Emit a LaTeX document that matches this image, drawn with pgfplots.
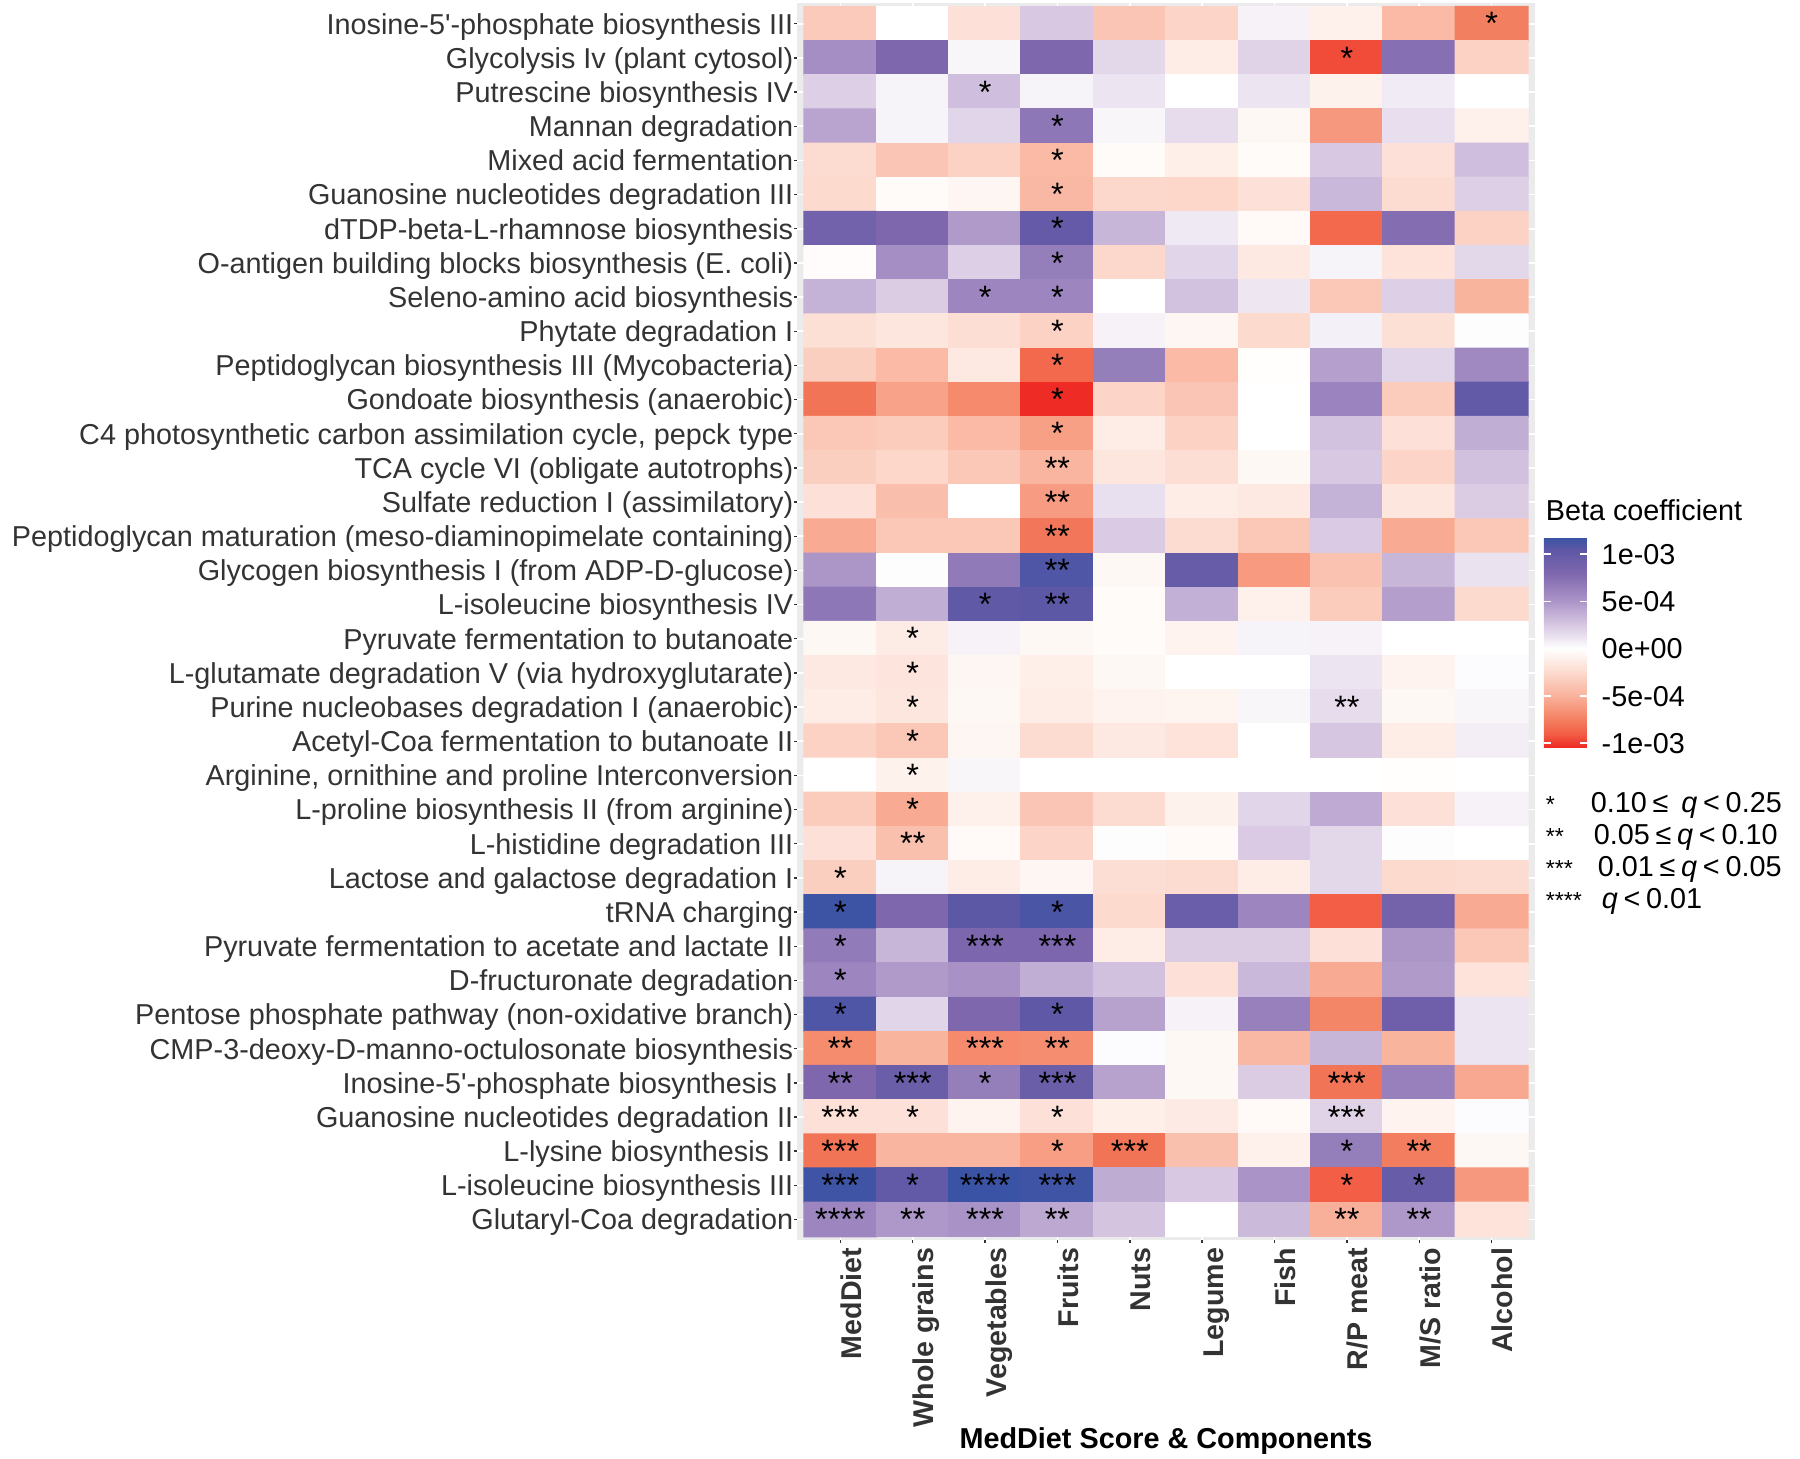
\documentclass[border=0pt]{standalone}
\usepackage{fontspec}
\setmainfont{Liberation Sans}
\usepackage{pgfplots}
\pgfplotsset{compat=1.18}
\definecolor{txt}{HTML}{333333}
\definecolor{panel}{HTML}{EBEBEB}
\pgfplotsset{colormap={hm}{
 rgb255(0cm)=(238,42,36) rgb255(1.45cm)=(242,94,70) rgb255(2.45cm)=(242,116,87)
 rgb255(3.45cm)=(245,138,108) rgb255(5.45cm)=(249,178,156) rgb255(7.95cm)=(252,218,206)
 rgb255(10.45cm)=(255,255,255) rgb255(12.95cm)=(216,200,226) rgb255(15.45cm)=(172,150,200)
 rgb255(18.45cm)=(127,103,174) rgb255(20.85cm)=(95,88,166) rgb255(22.25cm)=(58,83,164)}}
\newcommand\lab{\fontsize{7.2}{8.6}\selectfont}
\begin{document}
\begin{tikzpicture}
\useasboundingbox (0,0) rectangle (450pt,364.5pt);
\begin{axis}[
 at={(199.25pt,54.5pt)}, anchor=south west,
 scale only axis, width=184.5pt, height=309.175pt,
 xmin=-0.6, xmax=9.6, ymin=-0.6, ymax=35.6, y dir=reverse,
 axis background/.style={fill=panel},
 axis line style={draw=none},
 grid=major, major grid style={white, line width=0.4pt},
 tick align=outside, tick pos=left, major tick length=0.65pt,
 tick style={txt, line width=0.35pt},
 xtick={0,...,9},
 xticklabels={MedDiet, Whole grains, Vegetables, Fruits, Nuts, Legume, Fish, R/P meat, M/S ratio, Alcohol},
 ytick={0,...,35},
 yticklabels={
 Inosine-5\textquotesingle-phosphate biosynthesis III,
 Glycolysis Iv (plant cytosol),
 Putrescine biosynthesis IV,
 Mannan degradation,
 Mixed acid fermentation,
 Guanosine nucleotides degradation III,
 dTDP-beta-L-rhamnose biosynthesis,
 O-antigen building blocks biosynthesis (E. coli),
 Seleno-amino acid biosynthesis,
 Phytate degradation I,
 Peptidoglycan biosynthesis III (Mycobacteria),
 Gondoate biosynthesis (anaerobic),
 {C4 photosynthetic carbon assimilation cycle, pepck type},
 TCA cycle VI (obligate autotrophs),
 Sulfate reduction I (assimilatory),
 Peptidoglycan maturation (meso-diaminopimelate containing),
 Glycogen biosynthesis I (from ADP-D-glucose),
 L-isoleucine biosynthesis IV,
 Pyruvate fermentation to butanoate,
 L-glutamate degradation V (via hydroxyglutarate),
 Purine nucleobases degradation I (anaerobic),
 Acetyl-Coa fermentation to butanoate II,
 {Arginine, ornithine and proline Interconversion},
 L-proline biosynthesis II (from arginine),
 L-histidine degradation III,
 Lactose and galactose degradation I,
 tRNA charging,
 Pyruvate fermentation to acetate and lactate II,
 D-fructuronate degradation,
 Pentose phosphate pathway (non-oxidative branch),
 CMP-3-deoxy-D-manno-octulosonate biosynthesis,
 Inosine-5\textquotesingle-phosphate biosynthesis I,
 Guanosine nucleotides degradation II,
 L-lysine biosynthesis II,
 L-isoleucine biosynthesis III,
 Glutaryl-Coa degradation},
 xticklabel style={font=\fontsize{7.15}{8}\selectfont\bfseries, text=txt, inner sep=0pt, xshift=5.25pt, yshift=-1.1pt, rotate=90, anchor=base east},
 yticklabel style={font=\lab, text=txt, inner sep=0pt, anchor=base east, xshift=-0.1pt, yshift=-2.58pt},
 xlabel={MedDiet Score \& Components},
 xlabel style={font=\fontsize{7.2}{8}\selectfont\bfseries, at={(axis description cs:0.5,-0.1682)}, anchor=base, inner sep=0pt},
 colormap name=hm, point meta min=-10.45, point meta max=11.8,
 colorbar,
 colorbar style={
  at={(parent axis.north east)}, anchor=north west, xshift=-6.3pt, yshift=-133.5pt,
  scale only axis, width=10.75pt, height=52.5pt,
  axis line style={draw=none},
  ytick={-10,-5,0,5,10}, yticklabels={-1e-03,-5e-04,0e+00,5e-04,1e-03},
  ytick pos=both, yticklabel pos=right,
  tick align=inside, major tick length=1.75pt, tick style={white, line width=0.4pt},
  yticklabel style={font=\lab, text=black, inner sep=0pt, anchor=base west, xshift=3.5pt, yshift=-2.58pt},
 },
]
\addplot[matrix plot*, mesh/cols=10, point meta=explicit] coordinates {
(0,0)[-3.5] (1,0)[0] (2,0)[-2] (3,0)[2.5] (4,0)[-3.8] (5,0)[-2.8] (6,0)[0.6] (7,0)[-1] (8,0)[-4.5] (9,0)[-7.5]
(0,1)[5.5] (1,1)[8] (2,1)[0.4] (3,1)[8] (4,1)[1.8] (5,1)[-1.2] (6,1)[2] (7,1)[-9.5] (8,1)[7.5] (9,1)[-3]
(0,2)[2.2] (1,2)[0.5] (2,2)[3] (3,2)[0.5] (4,2)[1.2] (5,2)[0] (6,2)[1.2] (7,2)[-0.9] (8,2)[0.9] (9,2)[0]
(0,3)[4.3] (1,3)[0.5] (2,3)[1.9] (3,3)[7] (4,3)[0.4] (5,3)[1.6] (6,3)[-0.5] (7,3)[-6.3] (8,3)[1.5] (9,3)[-1]
(0,4)[-2.4] (1,4)[-3.8] (2,4)[-3] (3,4)[-4.5] (4,4)[-0.3] (5,4)[-1.1] (6,4)[-0.3] (7,4)[2.5] (8,4)[-2] (9,4)[3]
(0,5)[-2.5] (1,5)[-0.3] (2,5)[-0.6] (3,5)[-4.6] (4,5)[-2.6] (5,5)[-2.7] (6,5)[-2] (7,5)[3.3] (8,5)[-2.4] (9,5)[2.2]
(0,6)[9] (1,6)[8] (2,6)[4.8] (3,6)[10] (4,6)[3.4] (5,6)[1] (6,6)[-0.4] (7,6)[-8.5] (8,6)[7.6] (9,6)[-3]
(0,7)[-0.2] (1,7)[5.5] (2,7)[2.2] (3,7)[6.5] (4,7)[-2.6] (5,7)[1.9] (6,7)[-1.5] (7,7)[0.5] (8,7)[-1.9] (9,7)[1.8]
(0,8)[3.6] (1,8)[2.3] (2,8)[6] (3,8)[6] (4,8)[0] (5,8)[2.8] (6,8)[1.1] (7,8)[-3.7] (8,8)[2.2] (9,8)[-4.9]
(0,9)[-2.1] (1,9)[-1.7] (2,9)[-2.2] (3,9)[-3] (4,9)[0.6] (5,9)[-0.6] (6,9)[-2.5] (7,9)[0.7] (8,9)[-2.1] (9,9)[0.1]
(0,10)[-3.2] (1,10)[-4.5] (2,10)[-1.5] (3,10)[-8.5] (4,10)[6.5] (5,10)[-4.5] (6,10)[-0.1] (7,10)[4.5] (8,10)[1.9] (9,10)[5.8]
(0,11)[-8] (1,11)[-5.8] (2,11)[-7] (3,11)[-10.4] (4,11)[-2.8] (5,11)[-3.8] (6,11)[0] (7,11)[6.2] (8,11)[-3.4] (9,11)[10.2]
(0,12)[-3.6] (1,12)[-3.4] (2,12)[-4.5] (3,12)[-5.9] (4,12)[-1.2] (5,12)[-3] (6,12)[0] (7,12)[2.8] (8,12)[-2] (9,12)[3.8]
(0,13)[-3.2] (1,13)[-2.7] (2,13)[-3.7] (3,13)[-4.8] (4,13)[-1.7] (5,13)[-2.2] (6,13)[-0.5] (7,13)[2.5] (8,13)[-2.8] (9,13)[2.9]
(0,14)[-2] (1,14)[-4.2] (2,14)[0] (3,14)[-6.1] (4,14)[1.4] (5,14)[-1.2] (6,14)[-1.5] (7,14)[3.6] (8,14)[-1.7] (9,14)[2.3]
(0,15)[-5.4] (1,15)[-3.7] (2,15)[-3.6] (3,15)[-7.9] (4,15)[2.4] (5,15)[-2.4] (6,15)[-3.7] (7,15)[2.4] (8,15)[-5.4] (9,15)[-3.6]
(0,16)[5] (1,16)[0.1] (2,16)[6.8] (3,16)[11] (4,16)[-0.5] (5,16)[9.8] (6,16)[-6.2] (7,16)[-4] (8,16)[3.4] (9,16)[1.3]
(0,17)[7] (1,17)[3.8] (2,17)[10.3] (3,17)[10.5] (4,17)[-0.3] (5,17)[3.7] (6,17)[-1] (7,17)[-3.4] (8,17)[4.6] (9,17)[-2.5]
(0,18)[-0.5] (1,18)[-1.3] (2,18)[0.6] (3,18)[-0.5] (4,18)[-0.3] (5,18)[-0.8] (6,18)[0.5] (7,18)[0.6] (8,18)[0] (9,18)[0]
(0,19)[-1.5] (1,19)[-1.8] (2,19)[-0.6] (3,19)[-1.1] (4,19)[-0.5] (5,19)[0] (6,19)[0] (7,19)[1.2] (8,19)[-0.8] (9,19)[0.2]
(0,20)[-1.2] (1,20)[-1.7] (2,20)[-0.5] (3,20)[-1.2] (4,20)[-0.8] (5,20)[-0.7] (6,20)[0.4] (7,20)[1.6] (8,20)[-0.5] (9,20)[0.4]
(0,21)[-3] (1,21)[-3.6] (2,21)[-0.6] (3,21)[-2.4] (4,21)[-1.5] (5,21)[-1.9] (6,21)[0] (7,21)[2.6] (8,21)[-1.2] (9,21)[0.8]
(0,22)[0] (1,22)[-0.9] (2,22)[0.4] (3,22)[0] (4,22)[0] (5,22)[0] (6,22)[0] (7,22)[0] (8,22)[-0.1] (9,22)[0]
(0,23)[-3.4] (1,23)[-5.4] (2,23)[-1] (3,23)[-3.8] (4,23)[-2.4] (5,23)[-0.9] (6,23)[1.9] (7,23)[4] (8,23)[-2] (9,23)[0.6]
(0,24)[-2] (1,24)[-4.1] (2,24)[-0.4] (3,24)[-2.8] (4,24)[0.1] (5,24)[-0.4] (6,24)[2.4] (7,24)[1.8] (8,24)[0.1] (9,24)[0]
(0,25)[-3.2] (1,25)[0.5] (2,25)[-1.2] (3,25)[-0.6] (4,25)[-2.2] (5,25)[-2.4] (6,25)[-1.2] (7,25)[1.8] (8,25)[-2.5] (9,25)[-2.4]
(0,26)[11.7] (1,26)[8] (2,26)[10.5] (3,26)[11.2] (4,26)[-2.5] (5,26)[9.6] (6,26)[6] (7,26)[-9] (8,26)[8.8] (9,26)[-5.4]
(0,27)[6.7] (1,27)[3.4] (2,27)[8.2] (3,27)[8.2] (4,27)[-1.2] (5,27)[2.3] (6,27)[2.3] (7,27)[-2] (8,27)[5] (9,27)[-3.7]
(0,28)[6] (1,28)[4.8] (2,28)[5.3] (3,28)[3.8] (4,28)[2.9] (5,28)[-2] (6,28)[3.3] (7,28)[-5.4] (8,28)[4.8] (9,28)[-1.9]
(0,29)[11] (1,29)[1.9] (2,29)[8] (3,29)[10.4] (4,29)[4.4] (5,29)[0.6] (6,29)[6.4] (7,29)[-7.2] (8,29)[9.2] (9,29)[1.2]
(0,30)[-6.9] (1,30)[-4.9] (2,30)[-7] (3,30)[-6.8] (4,30)[0.2] (5,30)[-0.5] (6,30)[-4.6] (7,30)[3.4] (8,30)[-4.9] (9,30)[1.2]
(0,31)[8] (1,31)[9.5] (2,31)[6.5] (3,31)[9.5] (4,31)[4.4] (5,31)[-0.5] (6,31)[2.3] (7,31)[-8] (8,31)[6.4] (9,31)[-5.5]
(0,32)[-2] (1,32)[-2] (2,32)[-0.8] (3,32)[-2] (4,32)[-1.1] (5,32)[-1.4] (6,32)[-0.4] (7,32)[2] (8,32)[-0.8] (9,32)[0.2]
(0,33)[-8] (1,33)[-4.8] (2,33)[-4.8] (3,33)[-6] (4,33)[-8] (5,33)[-4.1] (6,33)[-1] (7,33)[6.5] (8,33)[-7.6] (9,33)[-0.5]
(0,34)[11.6] (1,34)[10.2] (2,34)[11.8] (3,34)[11.6] (4,34)[3.9] (5,34)[2.5] (6,34)[5.1] (7,34)[-9] (8,34)[9.8] (9,34)[-6.3]
(0,35)[6] (1,35)[4.9] (2,35)[5.2] (3,35)[4.1] (4,35)[2.7] (5,35)[0] (6,35)[3.2] (7,35)[-5.1] (8,35)[4.9] (9,35)[-1.9]
};
\addplot[draw=none, mark=none, point meta=explicit symbolic, nodes near coords,
 nodes near coords align={anchor=base},
 every node near coord/.append style={font=\fontsize{8.1}{9}\selectfont, text=black, inner sep=0pt, anchor=base, yshift=-2.8pt}]
coordinates {
(9,0)[*] (7,1)[*] (2,2)[*] (3,3)[*] (3,4)[*] (3,5)[*] (3,6)[*] (3,7)[*] (2,8)[*] (3,8)[*]
(3,9)[*] (3,10)[*] (3,11)[*] (3,12)[*] (3,13)[**] (3,14)[**] (3,15)[**] (3,16)[**] (2,17)[*] (3,17)[**]
(1,18)[*] (1,19)[*] (1,20)[*] (7,20)[**] (1,21)[*] (1,22)[*] (1,23)[*] (1,24)[**] (0,25)[*]
(0,26)[*] (3,26)[*] (0,27)[*] (2,27)[***] (3,27)[***] (0,28)[*] (0,29)[*] (3,29)[*]
(0,30)[**] (2,30)[***] (3,30)[**] (0,31)[**] (1,31)[***] (2,31)[*] (3,31)[***] (7,31)[***]
(0,32)[***] (1,32)[*] (3,32)[*] (7,32)[***] (0,33)[***] (3,33)[*] (4,33)[***] (7,33)[*] (8,33)[**]
(0,34)[***] (1,34)[*] (2,34)[****] (3,34)[***] (7,34)[*] (8,34)[*]
(0,35)[****] (1,35)[**] (2,35)[***] (3,35)[**] (7,35)[**] (8,35)[**]
};
\end{axis}
\node[anchor=base west, inner sep=0pt, font=\lab] at (386.25pt,234.25pt) {Beta coefficient};
\begin{scope}[every node/.style={anchor=base west, inner sep=0pt}]
\node[font=\fontsize{5.8}{7}\selectfont] at (386.25pt,161.25pt) {*};
\node[font=\fontsize{5.8}{7}\selectfont] at (386.25pt,153.25pt) {**};
\node[font=\fontsize{5.8}{7}\selectfont] at (386.25pt,145.25pt) {***};
\node[font=\fontsize{5.8}{7}\selectfont] at (386.25pt,137.25pt) {****};
\node[font=\lab] at (397.5pt,161.25pt) {0.10\hspace{0.2em}≤\hspace{0.45em}\textit{q}\hspace{0.2em}<\hspace{0.2em}0.25};
\node[font=\lab] at (398.25pt,153.25pt) {0.05\hspace{0.2em}≤\hspace{0.2em}\textit{q}\hspace{0.2em}<\hspace{0.2em}0.10};
\node[font=\lab] at (399.25pt,145.25pt) {0.01\hspace{0.2em}≤\hspace{0.2em}\textit{q}\hspace{0.2em}<\hspace{0.2em}0.05};
\node[font=\lab] at (400.25pt,137.25pt) {\textit{q}\hspace{0.2em}<\hspace{0.2em}0.01};
\end{scope}
\end{tikzpicture}
\end{document}
